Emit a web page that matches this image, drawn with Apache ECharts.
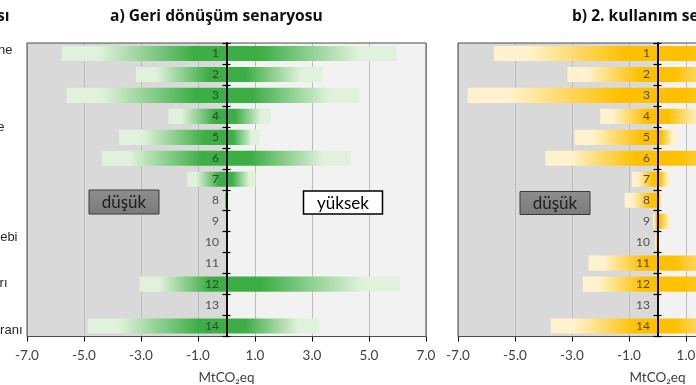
<!DOCTYPE html>
<html><head><meta charset="utf-8">
<script src="https://cdn.jsdelivr.net/npm/echarts@6/dist/echarts.min.js"></script>
<style>html,body{margin:0;padding:0;background:#fff}#c{width:696px;height:385px}</style>
</head><body><div id="c"></div>
<script>
// ---- data ----
const categories = ['1','2','3','4','5','6','7','8','9','10','11','12','13','14'];
const recycleLow  = [-5.78, -3.18, -5.61, -2.04, -3.77, -4.37, -1.37, -0.10, 0, 0, 0, -3.04, 0, -4.87];
const recycleHigh = [ 5.97,  3.36,  4.64,  1.56,  1.15,  4.36,  1.02,  0.06, 0, 0, 0,  6.09, 0,  3.25];
const reuseLow    = [-5.74, -3.16, -6.66, -2.01, -2.91, -3.93, -0.90, -1.15, -0.15, -0.08, -2.42, -2.62, 0, -3.75];
const reuseHigh   = [ 5.50,  3.00,  5.00,  1.80,  0.66,  4.00,  0.45,  0.16,  0.48,  0.07,  3.00,  4.50, 0,  3.00];
const tickValues  = [-7, -5, -3, -1, 1, 3, 5, 7];
const panelTitles = ['a) Geri dönüşüm senaryosu', 'b) 2. kullanım senaryosu'];
const axisName = 'MtCO₂eq';
const lowText = 'düşük', highText = 'yüksek';
const cutLabels = ['ne', 'e', 'ebi', 'rı', 'oranı'];
const cutTitle = 'ısı';

// ---- styles ----
const GREEN = '#3dae46', GREEN_L = '#e1f2dc';
const GOLD = '#ffc000', GOLD_L = '#fff2cc';
function gradNeg(solid, light) {
  return {type:'linear', x:0, y:0, x2:1, y2:0, colorStops:[
    {offset:0, color:light},{offset:0.22, color:light},{offset:0.8, color:solid},{offset:1, color:solid}]};
}
function gradPos(solid, light) {
  return {type:'linear', x:0, y:0, x2:1, y2:0, colorStops:[
    {offset:0, color:solid},{offset:0.2, color:solid},{offset:0.78, color:light},{offset:1, color:light}]};
}
const LBL = '#404040';
const FONT = 'Lato, "Open Sans", sans-serif';
const TFONT = 'bold 15.6px "Open Sans", Inter, sans-serif';

const panels = [
  {left:27, low:recycleLow, high:recycleHigh, solid:GREEN, light:GREEN_L},
  {left:458, low:reuseLow, high:reuseHigh, solid:GOLD, light:GOLD_L}
];
const grid = [], xAxis = [], yAxis = [], series = [];
panels.forEach((p, i) => {
  grid.push({left:p.left, top:43, width:399, height:293.5, show:true, z:3, outerBoundsMode:'none', containLabel:false,
    backgroundColor:'transparent', borderColor:'#4a4a4a', borderWidth:1});
  xAxis.push({gridIndex:i, type:'value', min:-7, max:7, position:'bottom', z:1,
    axisLine:{onZero:false, lineStyle:{color:'#000', width:1}},
    axisTick:{show:true, length:5, customValues:tickValues, lineStyle:{color:'#000'}},
    axisLabel:{customValues:tickValues, formatter:v => v.toFixed(1), fontSize:13.5, color:LBL, margin:12, fontFamily:FONT},
    splitLine:{show:true, lineStyle:{color:'#bdbdbd', width:1}},
    name:axisName, nameLocation:'middle', nameGap:34,
    nameTextStyle:{fontSize:13.5, color:LBL, fontFamily:FONT}});
  xAxis.push({gridIndex:i, type:'value', min:-7, max:7, interval:7, position:'bottom', z:0,
    axisLine:{show:false}, axisTick:{show:false}, axisLabel:{show:false},
    splitLine:{show:false}, splitArea:{show:true, areaStyle:{color:['#d9d9d9','#f2f2f2']}}});
  yAxis.push({gridIndex:i, type:'category', data:categories, inverse:true, position:'left', z:10,
    axisLine:{onZero:true, lineStyle:{color:'#000', width:1.5}},
    axisTick:{show:true, length:4, lineStyle:{color:'#000', width:1.2}},
    axisLabel:{show:false}, splitLine:{show:false}});
  yAxis.push({gridIndex:i, type:'category', data:categories, inverse:true, position:'right', z:10,
    axisLine:{onZero:true, lineStyle:{color:'#000', width:1.5}},
    axisTick:{show:true, length:4, lineStyle:{color:'#000', width:1.2}},
    axisLabel:{show:false}, splitLine:{show:false}});
  series.push({type:'bar', xAxisIndex:2*i, yAxisIndex:2*i, data:p.low, barWidth:'72%', barGap:'-100%',
    itemStyle:{color:gradNeg(p.solid, p.light)}, silent:true});
  series.push({type:'bar', xAxisIndex:2*i, yAxisIndex:2*i, data:p.high, barWidth:'72%', barGap:'-100%',
    itemStyle:{color:gradPos(p.solid, p.light)}, silent:true});
  // category numbers, anchored on the zero line
  series.push({type:'scatter', xAxisIndex:2*i, yAxisIndex:2*i, z:5, silent:true,
    data:categories.map(c => [0, c]), symbolSize:1, itemStyle:{color:'transparent'},
    label:{show:true, position:'left', distance:7, formatter:q => q.value[1],
      fontSize:12, color:'#2b2b2b', fontFamily:FONT}});
});

function box(x, y, w, h, text, dark) {
  return [
    {type:'rect', z:100, shape:{x:x, y:y, width:w, height:h},
      style:{fill: dark ? {type:'linear', x:0,y:0,x2:0,y2:1, colorStops:[{offset:0,color:'#8e8e8e'},{offset:1,color:'#7a7a7a'}]} : '#fff',
        stroke: dark ? '#3a3a3a' : '#000', lineWidth: dark ? 1 : 1.5}},
    {type:'text', z:101, style:{text:text, x:x + w/2, y:y + h/2 + 1, align:'center', verticalAlign:'middle',
      font:'17px ' + FONT, fill: dark ? '#1e1e1e' : '#000'}}
  ];
}
const cutY = [50, 127, 237, 283, 330], cutX = [12.5, 4.5, 17.5, 7.5, 22.5];
const graphic = [
  {type:'text', z:100, style:{text:panelTitles[0], x:110, y:17, align:'left', verticalAlign:'middle', font:TFONT, fill:'#111'}},
  {type:'text', z:100, style:{text:panelTitles[1], x:572, y:17, align:'left', verticalAlign:'middle', font:TFONT, fill:'#111'}},
  {type:'text', z:100, style:{text:cutTitle, x:9.5, y:17, align:'right', verticalAlign:'middle', font:TFONT, fill:'#111'}}
].concat(box(89, 190, 70, 24, lowText, true), box(303.5, 191, 79, 23, highText, false), box(520, 191.5, 70, 23, lowText, true));
cutLabels.forEach((t, k) => graphic.push({type:'text', z:100, style:{text:t, x:cutX[k], y:cutY[k], align:'right', verticalAlign:'middle', font:'13px "Liberation Sans", Arial, sans-serif', fill:'#262626'}}));

const chart = echarts.init(document.getElementById('c'), null, {renderer:'canvas'});
chart.setOption({animation:false, backgroundColor:'#fff', grid, xAxis, yAxis, series, graphic});
</script></body></html>
